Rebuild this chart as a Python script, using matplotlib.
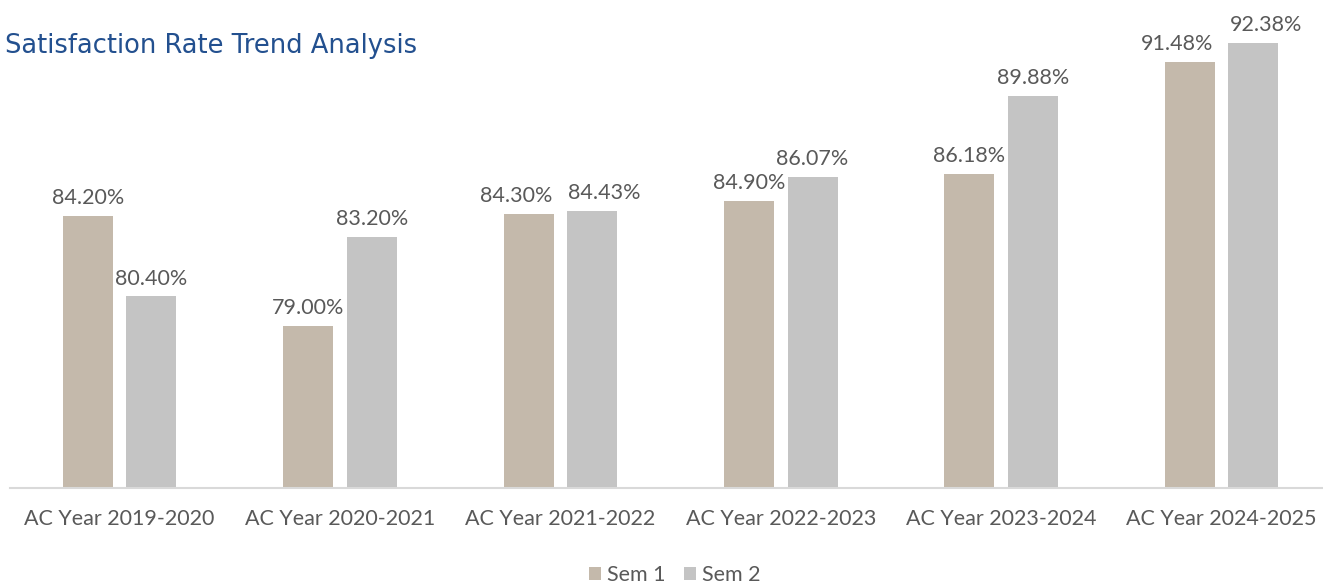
import numpy as np
import matplotlib.pyplot as plt

years = ["AC Year 2019-2020", "AC Year 2020-2021", "AC Year 2021-2022",
         "AC Year 2022-2023", "AC Year 2023-2024", "AC Year 2024-2025"]
sem1 = [84.20, 79.00, 84.30, 84.90, 86.18, 91.48]
sem2 = [80.40, 83.20, 84.43, 86.07, 89.88, 92.38]

SEM1_COLOR = "#c4b9ab"
SEM2_COLOR = "#c4c4c4"
TEXT_COLOR = "#595959"

plt.rcParams["font.family"] = ["Lato", "DejaVu Sans"]

W, H = 1323, 587
fig = plt.figure(figsize=(W / 100, H / 100), dpi=100)

# axes placed in pixel units, right edge runs a bit past the figure like the original
left_px, right_px, base_px, top_px = 9.5, 1331.7, 488.3, 0
ax = fig.add_axes([left_px / W, 1 - base_px / H,
                   (right_px - left_px) / W, (base_px - top_px) / H])

x = np.arange(len(years))
bw = 0.227
off = 0.144
b1 = ax.bar(x - off, sem1, bw, color=SEM1_COLOR, label="Sem 1", zorder=2)
b2 = ax.bar(x + off, sem2, bw, color=SEM2_COLOR, label="Sem 2", zorder=2)

ax.set_xlim(-0.5, len(years) - 0.5)
ax.set_ylim(71.32, 94.43)

# labels of a pair with close values get pushed apart a little so they don't collide
for i in range(len(years)):
    dx = 9 if abs(sem1[i] - sem2[i]) < 1.0 else 0
    for rect, v, sgn in ((b1[i], sem1[i], -1), (b2[i], sem2[i], 1)):
        ax.annotate(f"{v:.2f}%", (rect.get_x() + rect.get_width() / 2, v),
                    xytext=(sgn * dx, 8.6), textcoords="offset points",
                    ha="center", va="baseline", fontsize=15.5,
                    color=TEXT_COLOR, annotation_clip=False)

for s in ["top", "right", "left"]:
    ax.spines[s].set_visible(False)
ax.spines["bottom"].set_color("#d9d9d9")
ax.spines["bottom"].set_linewidth(1.5)
ax.set_yticks([])
ax.set_xticks(x)
ax.set_xticklabels(years, fontsize=15.5, color=TEXT_COLOR)
ax.tick_params(axis="x", length=0, pad=15)

fig.text(5 / W, 1 - 53 / H, "Satisfaction Rate Trend Analysis",
         fontsize=18.5, color="#23508f", family="DejaVu Sans",
         ha="left", va="baseline")

fig.legend(handles=[b1, b2], loc="lower center", bbox_to_anchor=(0.51, -0.012),
           ncol=2, frameon=False, fontsize=15.5, labelcolor=TEXT_COLOR,
           handlelength=0.55, handleheight=0.55, handletextpad=0.25,
           columnspacing=0.9, borderaxespad=0)

fig.savefig("out.png", dpi=100)
